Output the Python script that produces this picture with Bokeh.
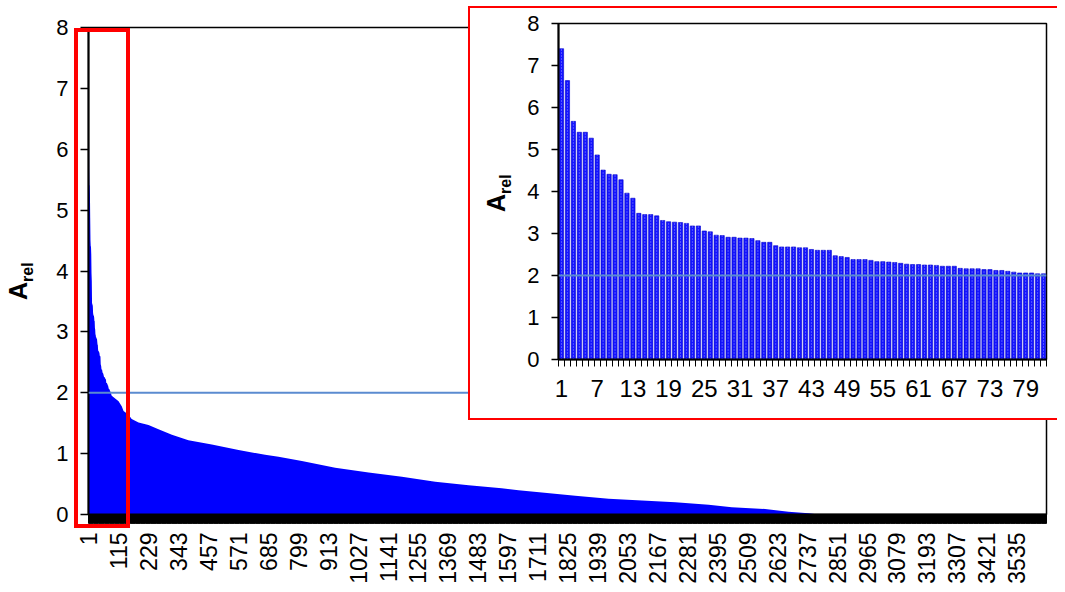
import numpy as np
from bokeh.plotting import figure
from bokeh.models import Range1d, FixedTicker, Span, Div
from bokeh.layouts import column
from bokeh.embed import file_html
from bokeh.resources import INLINE

# ---------------- data ----------------
N_MAIN = 3648          # number of ranked items in the main chart
N_INSET = 82           # number of items shown in the inset
threshold = 2.0

inset_rank = list(range(1, N_INSET + 1))
inset_values = [7.40, 6.64, 5.67, 5.41, 5.41, 5.27, 4.87, 4.51, 4.41, 4.40,
                4.28, 3.96, 3.84, 3.48, 3.45, 3.45, 3.42, 3.31, 3.28, 3.27,
                3.26, 3.24, 3.18, 3.18, 3.06, 3.04, 2.96, 2.95, 2.91, 2.91,
                2.89, 2.89, 2.88, 2.83, 2.79, 2.79, 2.71, 2.68, 2.68, 2.68,
                2.66, 2.66, 2.62, 2.60, 2.60, 2.60, 2.47, 2.45, 2.43, 2.38,
                2.38, 2.38, 2.36, 2.33, 2.33, 2.32, 2.31, 2.29, 2.27, 2.26,
                2.26, 2.25, 2.25, 2.24, 2.22, 2.22, 2.22, 2.17, 2.16, 2.16,
                2.16, 2.14, 2.14, 2.12, 2.12, 2.10, 2.08, 2.06, 2.06, 2.06,
                2.04, 2.04]

# readings of the main profile beyond the inset range (rank, A_rel)
tail_rank = [89, 115, 127, 134, 153, 165, 191, 229, 267, 318, 381, 470, 572,
             673, 724, 813, 940, 1067, 1194, 1321, 1448, 1574, 1638, 1727,
             1854, 1981, 2108, 2235, 2362, 2450, 2577, 2666, 2742, 2780, 3648]
tail_value = [1.95, 1.86, 1.78, 1.70, 1.64, 1.57, 1.51, 1.47, 1.40, 1.31, 1.22,
              1.15, 1.06, 0.98, 0.95, 0.88, 0.77, 0.69, 0.62, 0.54, 0.48, 0.43,
              0.40, 0.36, 0.31, 0.26, 0.23, 0.20, 0.16, 0.12, 0.09, 0.045,
              0.02, 0.0, 0.0]

main_rank = inset_rank + tail_rank
main_value = inset_values + tail_value

main_tick_labels = [1, 115, 229, 343, 457, 571, 685, 799, 913, 1027, 1141,
                    1255, 1369, 1483, 1597, 1711, 1825, 1939, 2053, 2167, 2281,
                    2395, 2509, 2623, 2737, 2851, 2965, 3079, 3193, 3307, 3421,
                    3535]
inset_tick_labels = [1, 7, 13, 19, 25, 31, 37, 43, 49, 55, 61, 67, 73, 79]
y_ticks = [0, 1, 2, 3, 4, 5, 6, 7, 8]

FONT = "Liberation Sans"
BLUE = "#0000ff"
LINE = "#5b8bd0"
RED = "#ff0000"


def style_axes(p, n, xticks, xfont, xorient, xstandoff, xtick_out, ytick_out):
    p.xgrid.visible = False
    p.ygrid.visible = False
    p.outline_line_color = "black"
    p.outline_line_width = 1.5
    p.background_fill_color = "white"
    p.border_fill_color = "white"

    xa = p.xaxis[0]
    xa.ticker = FixedTicker(ticks=xticks,
                            minor_ticks=[i + 0.5 for i in range(0, n + 1)])
    xa.major_tick_out = 0
    xa.major_tick_in = 0
    xa.major_tick_line_color = None
    xa.minor_tick_out = xtick_out
    xa.minor_tick_in = 0
    xa.minor_tick_line_color = "black"
    xa.minor_tick_line_width = 1
    xa.axis_line_color = "black"
    xa.axis_line_width = 2
    xa.major_label_text_font = FONT
    xa.major_label_text_font_size = xfont
    xa.major_label_text_color = "black"
    xa.major_label_orientation = xorient
    xa.major_label_standoff = xstandoff

    ya = p.yaxis[0]
    ya.ticker = FixedTicker(ticks=y_ticks, minor_ticks=[])
    ya.major_tick_out = ytick_out
    ya.major_tick_in = 0
    ya.major_tick_line_color = "black"
    ya.major_tick_line_width = 1.5
    ya.minor_tick_line_color = None
    ya.axis_line_color = "black"
    ya.axis_line_width = 2
    ya.major_label_text_font = FONT
    ya.major_label_text_font_size = "22px"
    ya.major_label_text_color = "black"
    ya.major_label_standoff = 12


def axis_title(cx, cy, sub_px):
    # rotated "A_rel" title, centred on page point (cx, cy)
    w, h = 60, 34
    html = ('<div style="font-family:\'Liberation Sans\';font-weight:bold;'
            'font-size:25px;line-height:34px;text-align:center;'
            'white-space:nowrap;color:black">A<sub style="font-size:%dpx;'
            'vertical-align:-0.35em">rel</sub></div>' % sub_px)
    return Div(text=html, width=w, height=h, margin=0,
               styles={"position": "absolute", "left": "%dpx" % (cx - w / 2),
                       "top": "%dpx" % (cy - h / 2), "width": "%dpx" % w,
                       "height": "%dpx" % h, "transform": "rotate(-90deg)",
                       "transform-origin": "50% 50%", "z-index": "20",
                       "overflow": "visible", "margin": "0px"})


# ---------------- main chart ----------------
main = figure(frame_width=958, frame_height=487,
              x_range=Range1d(0.5, N_MAIN + 0.5), y_range=Range1d(0, 8),
              min_border_left=82, min_border_top=27, min_border_right=9,
              min_border_bottom=64,
              output_backend="svg", toolbar_location=None)
main.varea(x=main_rank, y1=0, y2=main_value, fill_color=BLUE)
main.add_layout(Span(location=threshold, dimension="width",
                     line_color=LINE, line_width=2))
style_axes(main, N_MAIN, main_tick_labels, "23px", np.pi / 2, 9, 9, 8)

# red frame that marks the zoomed region (items 1..~140)
zoom_box = Div(text="", width=56, height=500, margin=0,
               styles={"position": "absolute", "left": "74px", "top": "28px",
                       "width": "56px", "height": "500px", "margin": "0px",
                       "box-sizing": "border-box",
                       "border": "4px solid #ff0000", "z-index": "15",
                       "pointer-events": "none"})

# ---------------- inset chart ----------------
inset = figure(frame_width=486, frame_height=332,
               x_range=Range1d(0.5, N_INSET + 0.5), y_range=Range1d(0, 8),
               min_border_left=88, min_border_top=15, min_border_right=13,
               min_border_bottom=63,
               output_backend="svg", toolbar_location=None,
               styles={"position": "absolute", "left": "468px", "top": "6px",
                       "border-left": "2px solid #ff0000",
                       "border-top": "2px solid #ff0000",
                       "border-bottom": "2px solid #ff0000",
                       "background-color": "white", "z-index": "10"})
inset.vbar(x=inset_rank, top=inset_values, width=0.72, fill_color="#1414ff",
           line_color="#0000cc", line_width=0.6)
inset.segment(x0=inset_rank, y0=[0] * N_INSET, x1=inset_rank, y1=inset_values,
              line_color="white", line_width=1, line_dash="1 2", line_alpha=0.55)
inset.add_layout(Span(location=threshold, dimension="width",
                      line_color=LINE, line_width=2))
style_axes(inset, N_INSET, inset_tick_labels, "24px", "horizontal", 13, 7, 7)

title_main = axis_title(18, 270, 16)
title_inset = axis_title(496, 182, 16)

layout = column(main, inset, zoom_box, title_main, title_inset)
open("out.html", "w").write(file_html(layout, INLINE))
